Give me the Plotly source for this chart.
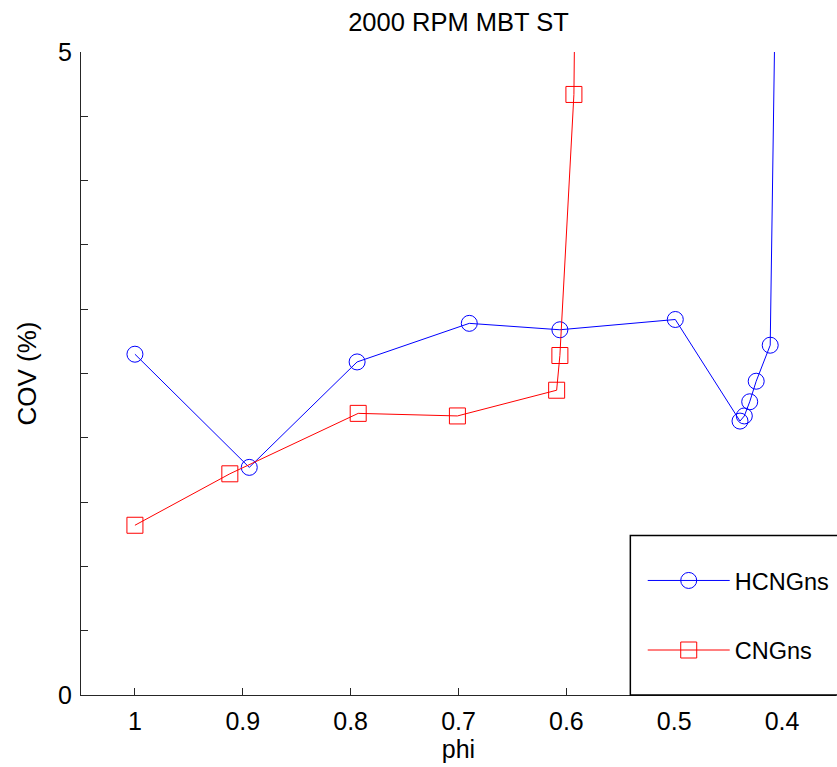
import plotly.graph_objects as go

# HCNGns series (phi, COV %)
hcng_phi = [1.0, 0.894, 0.794, 0.690, 0.606, 0.499, 0.439, 0.435, 0.430, 0.424, 0.411, 0.405]
hcng_cov = [2.65, 1.77, 2.59, 2.89, 2.84, 2.92, 2.13, 2.17, 2.28, 2.44, 2.72, 6.2]

# CNGns series (phi, COV %)
cng_phi = [1.0, 0.912, 0.793, 0.701, 0.609, 0.606, 0.593, 0.5915]
cng_cov = [1.32, 1.72, 2.19, 2.17, 2.37, 2.64, 4.67, 5.9]

x_tick_vals = [1.0, 0.9, 0.8, 0.7, 0.6, 0.5, 0.4]
x_tick_text = ["1", "0.9", "0.8", "0.7", "0.6", "0.5", "0.4"]
y_tick_vals = [0, 0.5, 1, 1.5, 2, 2.5, 3, 3.5, 4, 4.5, 5]
y_tick_text = ["0", "", "", "", "", "", "", "", "", "", "5"]

FONT = "Liberation Sans, Arial, Helvetica, sans-serif"
AX = "#262626"

fig = go.Figure()
fig.add_trace(go.Scatter(
    x=hcng_phi, y=hcng_cov, name="HCNGns", mode="lines+markers",
    line=dict(color="rgb(0,0,255)", width=1),
    marker=dict(symbol="circle-open", size=16, color="rgb(0,0,255)", line=dict(width=1)),
    legendgroup="a",
))
fig.add_trace(go.Scatter(
    x=cng_phi, y=cng_cov, name="CNGns", mode="lines+markers",
    line=dict(color="rgb(255,0,0)", width=1),
    marker=dict(symbol="square-open", size=16, color="rgb(255,0,0)", line=dict(width=1)),
    legendgroup="b",
))

# legend box (extends past the right edge as in the reference)
fig.add_shape(type="rect", xref="paper", yref="paper",
              x0=0.7276, x1=1.2, y0=0.0, y1=0.248,
              line=dict(color="black", width=1.5), fillcolor="white", layer="above")

fig.update_layout(
    width=837, height=767,
    margin=dict(l=81, r=1, t=52, b=72),
    paper_bgcolor="white", plot_bgcolor="white",
    font=dict(family=FONT, size=25, color="black"),
    title=dict(text="2000 RPM MBT ST", x=0.5, xref="paper", xanchor="center",
               y=1 - 22 / 767, yref="container", yanchor="middle",
               font=dict(family=FONT, size=25.5, color="black")),
    showlegend=True,
    legend=dict(x=0.744, y=0.212, xref="paper", yref="paper", xanchor="left", yanchor="top",
                bgcolor="rgba(0,0,0,0)", borderwidth=0, tracegroupgap=36,
                itemwidth=82, font=dict(family=FONT, size=23.5, color="black")),
    xaxis=dict(range=[1.05, 0.35], tickvals=x_tick_vals, ticktext=x_tick_text,
               ticks="inside", ticklen=7, tickcolor=AX, tickwidth=1,
               showline=True, linecolor=AX, linewidth=1, mirror=False,
               showgrid=False, zeroline=False, tickfont=dict(size=25),
               title=dict(text="phi", standoff=0, font=dict(size=25)), ticklabelstandoff=4),
    yaxis=dict(range=[0, 5], tickvals=y_tick_vals, ticktext=y_tick_text,
               ticks="inside", ticklen=7, tickcolor=AX, tickwidth=1,
               showline=True, linecolor=AX, linewidth=1, mirror=False,
               showgrid=False, zeroline=False, tickfont=dict(size=25),
               title=dict(text="COV (%)", standoff=13, font=dict(size=26)), ticklabelstandoff=3),
)

fig.write_html("out.html")
